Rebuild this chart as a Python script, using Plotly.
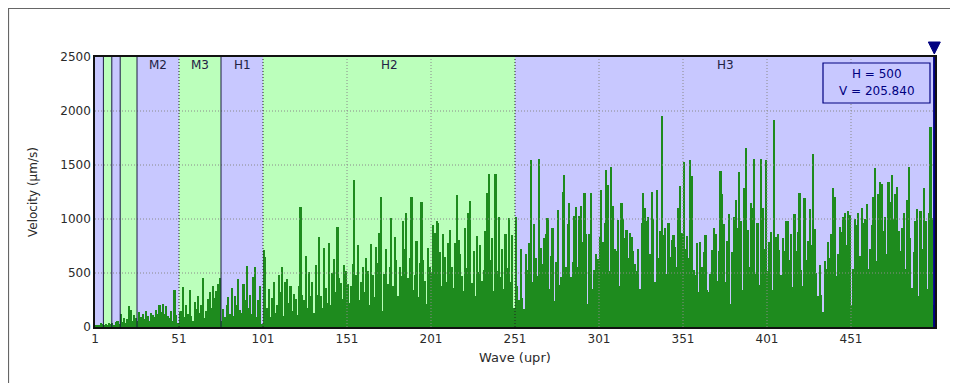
import plotly.graph_objects as go

# ---------------- data ----------------
velocity = [
    10, 15, 20, 35, 25, 20, 30, 15, 40, 25,
    35, 20, 45, 60, 30, 120, 50, 80, 40, 70,
    190, 160, 60, 110, 80, 60, 140, 90, 120, 70,
    150, 100, 60, 130, 110, 90, 160, 120, 200, 140,
    210, 120, 190, 100, 80, 150, 60, 340, 110, 40,
    140, 150, 370, 90, 200, 120, 340, 100, 60, 230,
    170, 290, 130, 200, 450, 80, 150, 260, 320, 180,
    380, 270, 330, 400, 450, 60, 170, 90, 200, 280,
    120, 360, 100, 290, 200, 440, 160, 130, 400, 250,
    565, 180, 300, 120, 460, 560, 90, 250, 380, 30,
    710, 650, 180, 350, 90, 270, 420, 130, 200, 480,
    320, 560, 100, 420, 440, 220, 380, 150, 310, 260,
    110, 380, 1115, 300, 250, 660, 180, 510, 290, 420,
    130, 570, 300, 830, 290, 180, 730, 360, 220, 780,
    200, 500, 630, 320, 930, 450, 410, 260, 570, 520,
    400, 220, 380, 580, 1360, 480, 760, 250, 420, 560,
    320, 640, 520, 200, 770, 480, 280, 740, 590, 870,
    1200, 150, 490, 720, 400, 560, 1010, 380, 830, 620,
    290, 560, 470, 980, 720, 1055, 450, 640, 1205, 340,
    480, 800, 280, 590, 1160, 620, 430, 210, 730, 560,
    510, 940, 870, 980, 960, 690, 380, 860, 650, 420,
    780, 900, 560, 360, 780, 1220, 810, 680, 470, 330,
    920, 550, 1060, 1165, 410, 700, 290, 840, 510, 760,
    430, 530, 890, 1240, 1420, 620, 820, 330, 1420, 520,
    1020, 460, 720, 350, 860, 550, 1010, 420, 850, 180,
    1020, 380, 250, 720, 270, 170, 680, 530, 780, 1545,
    420, 950, 640, 470, 1560, 730, 580, 820, 860, 1010,
    350, 660, 920, 240, 600, 1080, 390, 460, 1250, 1405,
    560, 950, 1150, 460, 600, 1030, 1110, 560, 1030, 1120,
    790, 1240, 860, 210, 860, 1240, 350, 530, 680, 630,
    830, 1270, 790, 960, 1450, 1315, 520, 1485, 1120, 720,
    700, 990, 380, 1145, 1000, 820, 900, 640, 870, 830,
    700, 580, 520, 720, 350, 960, 1240, 1100, 980, 1020,
    680, 1250, 1000, 420, 1270, 640, 890, 1955, 850, 920,
    490, 960, 650, 810, 850, 740, 560, 1100, 1310, 870,
    1530, 720, 840, 640, 1545, 1400, 530, 480, 780, 320,
    790, 560, 690, 850, 340, 320, 490, 710, 920, 860,
    430, 700, 1440, 1230, 950, 420, 800, 1050, 210, 690,
    1020, 1180, 920, 1435, 980, 340, 1290, 1655, 900, 560,
    1150, 1100, 1560, 490, 960, 390, 1555, 1100, 720, 1545,
    520, 790, 880, 340, 1920, 830, 860, 710, 480, 820,
    700, 980, 980, 620, 860, 370, 1050, 700, 880, 1240,
    530, 380, 1195, 620, 800, 1090, 760, 1605, 910, 500,
    290, 570, 300, 140, 610, 540, 790, 640, 860, 1285,
    1200, 470, 680, 930, 880, 1020, 1060, 760, 1070, 1040,
    200, 540, 1000, 940, 1060, 660, 1100, 960, 1000, 1140,
    540, 720, 940, 1200, 1475, 610, 1230, 1345, 1320, 890,
    1020, 680, 1340, 1160, 1405, 1000, 1230, 1300, 890, 700,
    920, 1060, 540, 1180, 1485, 820, 360, 690, 980, 1090,
    290, 1075, 720, 1285, 980, 350, 1055, 1850, 1010, 205.84,
]
wave = list(range(1, len(velocity) + 1))

band_edges = [1, 6, 11, 16, 26, 51, 76, 101, 251, 501]
band_kinds = ["b", "g", "b", "g", "b", "g", "b", "g", "b"]
band_labels = ["", "", "", "", "M2", "M3", "H1", "H2", "H3"]

x_ticks = [1, 51, 101, 151, 201, 251, 301, 351, 401, 451]
y_ticks = [0, 500, 1000, 1500, 2000, 2500]

cursor_h = 500
cursor_v = 205.840

# ---------------- style ----------------
BLUE = "#C8C8FF"
GREEN = "#BBFFBB"
BAR = "#1E8B1E"
NAVY = "#000080"
EDGE = "#1a1a40"
FONT = "DejaVu Sans, Verdana, sans-serif"
TXT = "#2a2a2a"

W, H = 944, 375
ML, MT, PW, PH = 87, 49, 840, 270
MR, MB = W - ML - PW, H - MT - PH


def px_x(p):  # pixel (inside figure) -> paper x
    return (p - ML) / PW


def px_y(p):  # pixel (inside figure) -> paper y
    return (MT + PH - p) / PH


fig = go.Figure()
fig.add_trace(go.Bar(
    x=wave, y=velocity, width=1, offset=0,
    marker=dict(color=BAR, line=dict(width=0)),
    hoverinfo="x+y",
))

shapes = []
annotations = []
for i, kind in enumerate(band_kinds):
    x0, x1 = band_edges[i], band_edges[i + 1]
    shapes.append(dict(type="rect", xref="x", yref="paper", x0=x0, x1=x1, y0=0, y1=1,
                       fillcolor=BLUE if kind == "b" else GREEN, line=dict(width=0),
                       layer="below"))
    if band_labels[i]:
        annotations.append(dict(x=(x0 + x1) / 2, y=0.97, xref="x", yref="paper",
                                xanchor="center", yanchor="middle",
                                text=band_labels[i], showarrow=False,
                                font=dict(size=12, color="#222244", family=FONT)))

GRID = dict(color="#8a8a8a", width=1, dash="1px,2px")
for xv in x_ticks[1:]:
    if xv in band_edges:
        continue
    shapes.append(dict(type="line", xref="x", yref="paper", x0=xv, x1=xv, y0=0, y1=1,
                       line=GRID, layer="above"))
for yv in y_ticks[1:-1]:
    shapes.append(dict(type="line", xref="paper", yref="y", x0=0, x1=1, y0=yv, y1=yv,
                       line=GRID, layer="above"))
# band boundaries
for xv in band_edges[1:-1]:
    on_grid = xv in x_ticks
    shapes.append(dict(type="line", xref="x", yref="paper", x0=xv, x1=xv, y0=0, y1=1,
                       line=dict(color="#222222" if on_grid else EDGE, width=1,
                                 dash="1px,2px" if on_grid else "solid"), layer="above"))

# cursor line + triangle
cx = cursor_h + 0.6
shapes.append(dict(type="line", xref="x", yref="paper", x0=cx, x1=cx,
                   y0=0, y1=1, line=dict(color=NAVY, width=2.5), layer="above"))
cpx = ML + (cx - 1) / 500 * PW
shapes.append(dict(type="path", xref="paper", yref="paper",
                   path=f"M {px_x(cpx - 6)} {px_y(34)} L {px_x(cpx + 6)} {px_y(34)} "
                        f"L {px_x(cpx)} {px_y(46)} Z",
                   fillcolor=NAVY, line=dict(color=NAVY, width=1), layer="above"))

# cursor readout box
shapes.append(dict(type="rect", xref="paper", yref="paper",
                   x0=px_x(815), x1=px_x(922), y0=px_y(95), y1=px_y(55),
                   fillcolor=BLUE, line=dict(color=NAVY, width=1.2), layer="above"))
bx = px_x(868.5)
annotations.append(dict(x=bx, y=px_y(66), xref="paper", yref="paper",
                        xanchor="center", yanchor="middle",
                        text=f"H = {cursor_h}", showarrow=False,
                        font=dict(size=12, color=NAVY, family=FONT)))
annotations.append(dict(x=bx, y=px_y(83), xref="paper", yref="paper",
                        xanchor="center", yanchor="middle",
                        text=f"V = {cursor_v:.3f}", showarrow=False,
                        font=dict(size=12, color=NAVY, family=FONT)))

# outer frame (figure border)
shapes.append(dict(type="rect", xref="paper", yref="paper",
                   x0=px_x(0.5), x1=px_x(W - 0.5), y0=px_y(H + 5), y1=px_y(0.5),
                   line=dict(color="#666666", width=1.2),
                   fillcolor="rgba(0,0,0,0)", layer="above"))

# axis titles
annotations.append(dict(x=px_x(25), y=0.5, xref="paper", yref="paper",
                        xanchor="center", yanchor="middle", text="Velocity (µm/s)",
                        textangle=-90, showarrow=False,
                        font=dict(size=12, color=TXT, family=FONT)))
annotations.append(dict(x=0.5, y=px_y(349), xref="paper", yref="paper",
                        xanchor="center", yanchor="middle", text="Wave (upr)",
                        showarrow=False, font=dict(size=13, color=TXT, family=FONT)))

fig.update_layout(
    width=W, height=H,
    margin=dict(l=ML, r=MR, t=MT, b=MB, pad=0),
    paper_bgcolor="white", plot_bgcolor=BLUE,
    showlegend=False, bargap=0,
    shapes=shapes, annotations=annotations,
    font=dict(family=FONT, size=12, color=TXT),
    xaxis=dict(range=[1, 501], tickvals=x_ticks, ticktext=[str(v) for v in x_ticks],
               showgrid=False, zeroline=False, showline=True, linecolor="#111111",
               linewidth=1.5, mirror=True, ticks="", tickfont=dict(size=12)),
    yaxis=dict(range=[0, 2500], tickvals=y_ticks, showgrid=False, zeroline=False,
               showline=True, linecolor="#111111", linewidth=1.5, mirror=True,
               ticks="", tickfont=dict(size=12)),
)

fig.write_html("out.html")
